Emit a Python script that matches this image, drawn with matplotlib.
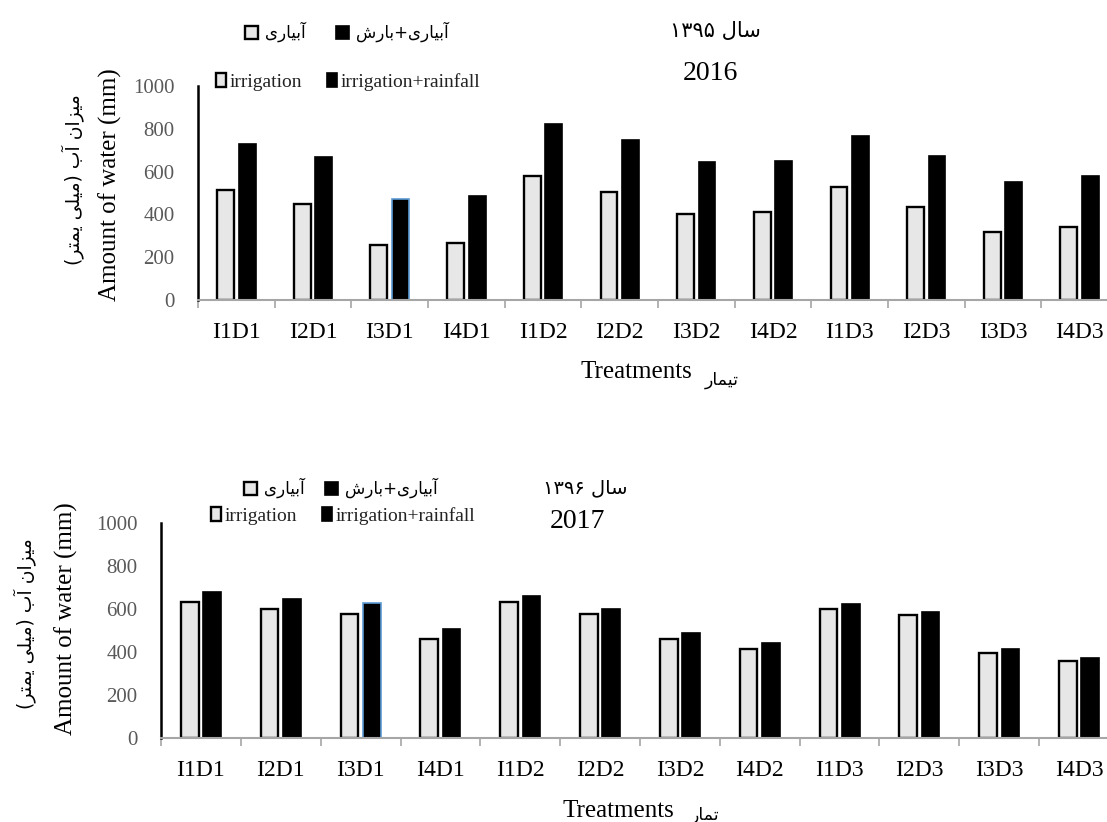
import numpy as np
import matplotlib.pyplot as plt

plt.rcParams['font.family'] = ['Liberation Serif', 'DejaVu Sans']

# data
treatments = ['I1D1', 'I2D1', 'I3D1', 'I4D1', 'I1D2', 'I2D2',
              'I3D2', 'I4D2', 'I1D3', 'I2D3', 'I3D3', 'I4D3']
irr_2016 = [512, 450, 256, 268, 581, 507, 403, 411, 530, 433, 316, 341]
irr_rain_2016 = [729, 667, 473, 488, 822, 748, 647, 651, 767, 671, 553, 580]
irr_2017 = [634, 598, 576, 460, 632, 576, 462, 416, 602, 571, 397, 357]
irr_rain_2017 = [681, 645, 626, 509, 660, 602, 488, 443, 623, 587, 416, 374]
yticks = [0, 200, 400, 600, 800, 1000]

# Persian strings, already in visual (left-to-right) order with joined letter forms,
# because matplotlib does no Arabic shaping
fa_irr = '\uFEEF\uFEAD\uFE8E\uFEF4\uFE91\uFE81'                  # آبیاری
fa_irr_rain = '\uFEB5\uFEAD\uFE8E\uFE91+' + fa_irr                # آبیاری+بارش
fa_year16 = '\u06F1\u06F3\u06F9\u06F5 \uFEDD\uFE8E\uFEB3'         # سال ۱۳۹۵
fa_year17 = '\u06F1\u06F3\u06F9\u06F6 \uFEDD\uFE8E\uFEB3'         # سال ۱۳۹۶
fa_ylabel = ('(\uFEAE\uFE98\uFEE4\uFEF3 \uFEF0\uFEE0\uFEF4\uFEE3) '
             '\uFE8F\uFE81 \uFEE5\uFE8D\uFEB0\uFEF4\uFEE3')       # میزان آب (میلی یمتر)
fa_tr16 = '\uFEAD\uFE8E\uFEE4\uFEF4\uFE97'                        # تیمار
fa_tr17 = '\uFEAD\uFE8E\uFEE4\uFE97'                              # تمار

W, H = 1107, 822
fig = plt.figure(figsize=(W / 100, H / 100), dpi=100)


def px(x, y):
    return x / W, 1 - y / H


def panel(rect, irr, rain):
    ax = fig.add_axes(rect)
    x = np.arange(len(treatments))
    edges = ['black'] * len(treatments)
    edges[2] = '#5b9bd5'
    b1 = ax.bar(x - 0.14, irr, 0.22, color='#e7e7e7', edgecolor='black',
                linewidth=1.7, label='irrigation')
    b2 = ax.bar(x + 0.14, rain, 0.22, color='black', edgecolor=edges,
                linewidth=1.2, label='irrigation+rainfall')
    ax.set_xlim(-0.5, 11.5)
    ax.set_ylim(0, 1000)
    ax.set_xticks(x)
    ax.set_xticklabels(treatments, fontsize=17)
    ax.set_xticks(np.arange(-0.5, 12, 1), minor=True)
    ax.tick_params(axis='x', which='major', length=0, pad=16)
    ax.tick_params(axis='x', which='minor', length=6, color='#a6a6a6', width=1.2)
    ax.set_yticks(yticks)
    ax.tick_params(axis='y', length=0, pad=17, labelcolor='#595959', labelsize=15)
    for s in ['top', 'right']:
        ax.spines[s].set_visible(False)
    ax.spines['left'].set_linewidth(1.8)
    ax.spines['bottom'].set_color('#a6a6a6')
    ax.spines['bottom'].set_linewidth(1.5)
    return ax, b1, b2


def legends(b1, b2, en_xy, fa_xy, fa_gap):
    leg = fig.legend(handles=[b1, b2], labels=['irrigation', 'irrigation+rainfall'],
                     loc='center left', bbox_to_anchor=px(*en_xy), ncol=2,
                     frameon=False, fontsize=14, handlelength=0.5, handleheight=0.7,
                     handletextpad=0.2, columnspacing=1.3, borderpad=0,
                     borderaxespad=0, labelcolor='#222222')
    leg2 = fig.legend(handles=[b1, b2], labels=[fa_irr, fa_irr_rain],
                      loc='center left', bbox_to_anchor=px(*fa_xy), ncol=2,
                      frameon=False, prop={'family': 'DejaVu Sans', 'size': 12},
                      handlelength=0.8, handleheight=0.8, handletextpad=0.4,
                      columnspacing=fa_gap, borderpad=0, borderaxespad=0)
    return leg, leg2


# 2016
ax1, a1, a2 = panel([198 / W, 1 - 300 / H, 920 / W, 214 / H], irr_2016, irr_rain_2016)
legends(a1, a2, (216, 82), (245, 32), 1.8)
fig.text(*px(715, 31), fa_year16, family='DejaVu Sans', fontsize=15, ha='center', va='center')
fig.text(*px(710, 74), '2016', fontsize=20, ha='center', va='center')
fig.text(*px(110, 185), 'Amount of water (mm)', fontsize=18, rotation=90,
         ha='center', va='center')
fig.text(*px(73, 180), fa_ylabel, family='DejaVu Sans', fontsize=13.5, rotation=90,
         ha='center', va='center')
fig.text(*px(636, 372), 'Treatments', fontsize=18, ha='center', va='center')
fig.text(*px(722, 380), fa_tr16, family='DejaVu Sans', fontsize=12.5, ha='center', va='center')

# 2017
ax2, c1, c2 = panel([161 / W, 1 - 738 / H, 958 / W, 215 / H], irr_2017, irr_rain_2017)
legends(c1, c2, (211, 516), (244, 488), 1.2)
fig.text(*px(585, 488), fa_year17, family='DejaVu Sans', fontsize=14, ha='center', va='center')
fig.text(*px(577, 522), '2017', fontsize=20, ha='center', va='center')
fig.text(*px(66, 619), 'Amount of water (mm)', fontsize=18, rotation=90,
         ha='center', va='center')
fig.text(*px(25, 624), fa_ylabel, family='DejaVu Sans', fontsize=13.5, rotation=90,
         ha='center', va='center')
fig.text(*px(618, 811), 'Treatments', fontsize=18, ha='center', va='center')
fig.text(*px(705, 815), fa_tr17, family='DejaVu Sans', fontsize=12.5, ha='center', va='center')

fig.savefig('out.png', dpi=100)
